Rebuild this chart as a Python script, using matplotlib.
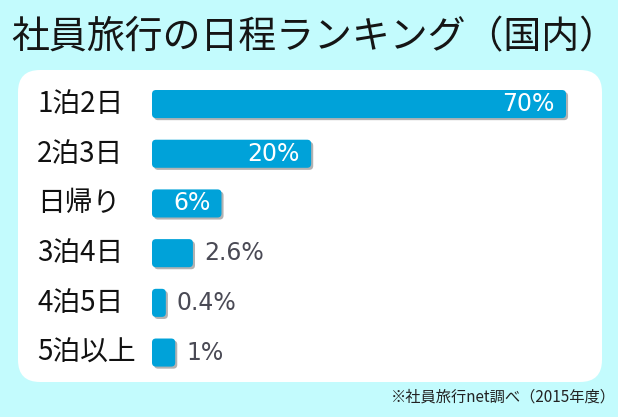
import numpy as np
import matplotlib.pyplot as plt
from matplotlib.patches import FancyBboxPatch
from matplotlib.transforms import blended_transform_factory
import matplotlib.patheffects as pe

CJK = ['Noto Sans CJK JP', 'DejaVu Sans']
plt.rcParams['font.family'] = CJK

categories = ['1泊2日', '2泊3日', '日帰り', '3泊4日', '4泊5日', '5泊以上']
values = [70, 20, 6, 2.6, 0.4, 1]
value_labels = ['70%', '20%', '6%', '2.6%', '0.4%', '1%']
title = '社員旅行の日程ランキング（国内）'
source = '※社員旅行net調べ（2015年度）'

BG = '#c3fbfd'
BAR = '#00a2d9'
W, H = 618, 417
C = 5.5


# the original graphic stretches the small bars, so a soft sqrt-like scale
def fwd(x):
    x = np.clip(x, 0, None)
    return x + C * np.sqrt(x)


def inv(y):
    y = np.clip(y, 0, None)
    s = (-C + np.sqrt(C * C + 4 * y)) / 2
    return s ** 2


fig = plt.figure(figsize=(W / 100, H / 100), dpi=100)
fig.patch.set_facecolor(BG)

# background layer in pixel coordinates
bg = fig.add_axes([0, 0, 1, 1])
bg.set_xlim(0, W)
bg.set_ylim(H, 0)
bg.axis('off')
bg.add_patch(FancyBboxPatch((18, 70), 584, 312, boxstyle='round,pad=0,rounding_size=22',
                            facecolor='white', edgecolor='none'))
bg.text(11, 38, title, fontsize=27.3, ha='left', va='center', color='#151515')
bg.text(391, 397, source, fontsize=11, ha='left', va='center', color='#222222')

# bar chart
ax_left, ax_right = 152, 596
ax_top, ax_bottom = 79.2, 377.4
ax = fig.add_axes([ax_left / W, 1 - ax_bottom / H, (ax_right - ax_left) / W, (ax_bottom - ax_top) / H])
ax.set_xscale('function', functions=(fwd, inv))
xmax = inv(fwd(70) * (ax_right - ax_left) / 414)
ax.set_xlim(0, xmax)
ax.set_ylim(len(categories) - 0.5, -0.5)
ax.axis('off')
ax.patch.set_alpha(0)

ypos = np.arange(len(categories))
bars = ax.barh(ypos, values, height=0.565, color=BAR)

# swap the square bars for rounded ones of the same size
fig.canvas.draw()
to_px = bg.transData.inverted()
shadow = [pe.SimplePatchShadow(offset=(1.5, -1.5), shadow_rgbFace='black', alpha=0.3),
          pe.Normal()]
for b in bars:
    ext = b.get_window_extent()
    (x0, y0), (x1, y1) = to_px.transform([[ext.x0, ext.y0], [ext.x1, ext.y1]])
    rb = FancyBboxPatch((x0, min(y0, y1)), x1 - x0, abs(y1 - y0),
                        boxstyle='round,pad=0,rounding_size=4',
                        facecolor=BAR, edgecolor='none', path_effects=shadow)
    bg.add_patch(rb)
    b.set_visible(False)

lab_tr = blended_transform_factory(fig.transFigure, ax.transData)
for y, cat in zip(ypos, categories):
    ax.text(37 / W, y, cat, transform=lab_tr, fontsize=20, ha='left', va='center',
            color='#111111')

for y, v, lab in zip(ypos, values, value_labels):
    if v >= 5:
        ax.annotate(lab, xy=(v, y), xytext=(-8, 0), textcoords='offset points',
                    ha='right', va='center', fontsize=17, color='white',
                    family='DejaVu Sans')
    else:
        ax.annotate(lab, xy=(v, y), xytext=(8, 0), textcoords='offset points',
                    ha='left', va='center', fontsize=17, color='#4a4a55',
                    family='DejaVu Sans')

fig.savefig('out.png', dpi=100, facecolor=BG)
